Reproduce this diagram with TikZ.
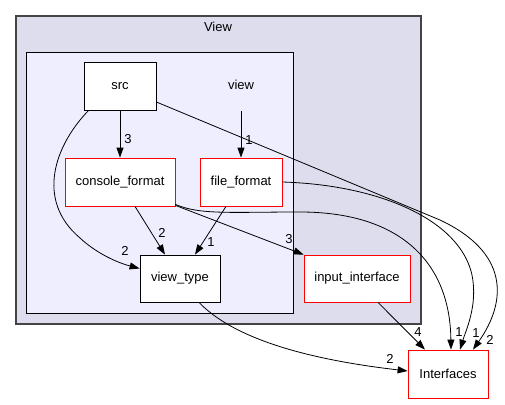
\documentclass[tikz,border=0pt]{standalone}
\usepackage{fontspec}
\setmainfont{Liberation Sans}
\usepackage{xcolor}
\usetikzlibrary{arrows.meta, positioning, calc}
\definecolor{outerfill}{HTML}{DDDDEE}
\definecolor{innerfill}{HTML}{EEEEFF}
\definecolor{outerline}{HTML}{444444}

\begin{document}
\begin{tikzpicture}[x=1pt, y=-1pt, font=\fontsize{13pt}{15pt}\selectfont]
    \tikzstyle{cluster} = [rectangle, draw=outerline, fill=outerfill, line width=1.2pt, inner sep=0pt]
    \tikzstyle{subcluster} = [rectangle, draw=black, fill=innerfill, line width=0.8pt, inner sep=0pt]
    \tikzstyle{dir} = [rectangle, draw=black, fill=white, line width=0.8pt, minimum height=48pt]
    \tikzstyle{extdir} = [dir, draw=red]
    \tikzstyle{lbl} = [inner sep=0pt]
    \tikzstyle{dep} = [line width=0.8pt, -{Triangle[length=10pt,width=7pt]}]

    \useasboundingbox (0,0) rectangle (505,404);

    \node (viewclu) [cluster, minimum width=405pt, minimum height=308pt] at (218.5,170) {};
    \node (viewtitle) [lbl] at (218,27) {View};
    \node (subclu) [subcluster, minimum width=267pt, minimum height=261pt] at (159.5,182.5) {};

    \node (src) [dir, minimum width=72pt] at (120,86) {src};
    \node (view) [lbl, minimum height=52pt] at (241,85) {view};
    \node (console) [extdir, minimum width=110pt] at (120,182) {console\_format};
    \node (file) [extdir, minimum width=82pt] at (241,182) {file\_format};
    \node (viewtype) [dir, minimum width=80pt, minimum height=47pt] at (180,278.5) {view\_type};
    \node (input) [extdir, minimum width=106pt, minimum height=47pt] at (357,278.5) {input\_interface};
    \node (interfaces) [extdir, minimum width=80pt] at (448,374) {Interfaces};

    \draw [dep] (src) -- (console);
    \draw [dep] (view.south) -- (file);
    \draw [dep] ([xshift=5pt]src.south west) .. controls (55,145) and (35,200) .. (80,238)
        .. controls (95,252) and (115,262) .. ([yshift=10pt]viewtype.west);
    \draw [dep] ([xshift=15pt]console.south) -- ([xshift=-15pt]viewtype.north);
    \draw [dep] ([xshift=-15pt]file.south) -- ([xshift=15pt]viewtype.north);
    \draw [dep] ([yshift=1pt]console.south east) -- (input.north west);
    \draw [dep] ([yshift=2pt]console.south east) .. controls (200,215) and (230,212) .. (300,212)
        .. controls (400,212) and (450,262) .. ([xshift=3pt]interfaces.north);
    \draw [dep] (file.east) .. controls (380,185) and (460,220) .. (472,275)
        .. controls (478,305) and (466,330) .. ([xshift=12pt]interfaces.north);
    \draw [dep] ([yshift=-16pt]src.east) -- (440,220) .. controls (508,252) and (508,300)
        .. ([xshift=25pt]interfaces.north);
    \draw [dep] ([xshift=21pt]input.south) -- ([xshift=-23pt]interfaces.north);
    \draw [dep] ([xshift=19pt]viewtype.south) .. controls (240,345) and (330,362) .. ([yshift=3pt]interfaces.west);

    \node (l1) [lbl] at (128,139) {3};
    \node (l2) [lbl] at (249,140) {1};
    \node (l3) [lbl] at (125,251) {2};
    \node (l4) [lbl] at (162,233) {2};
    \node (l5) [lbl] at (211,242) {1};
    \node (l6) [lbl] at (289,239) {3};
    \node (l7) [lbl] at (418,332) {4};
    \node (l8) [lbl] at (459,332) {1};
    \node (l9) [lbl] at (476,333) {1};
    \node (l10) [lbl] at (490,340) {2};
    \node (l11) [lbl] at (390,359) {2};
\end{tikzpicture}
\end{document}
